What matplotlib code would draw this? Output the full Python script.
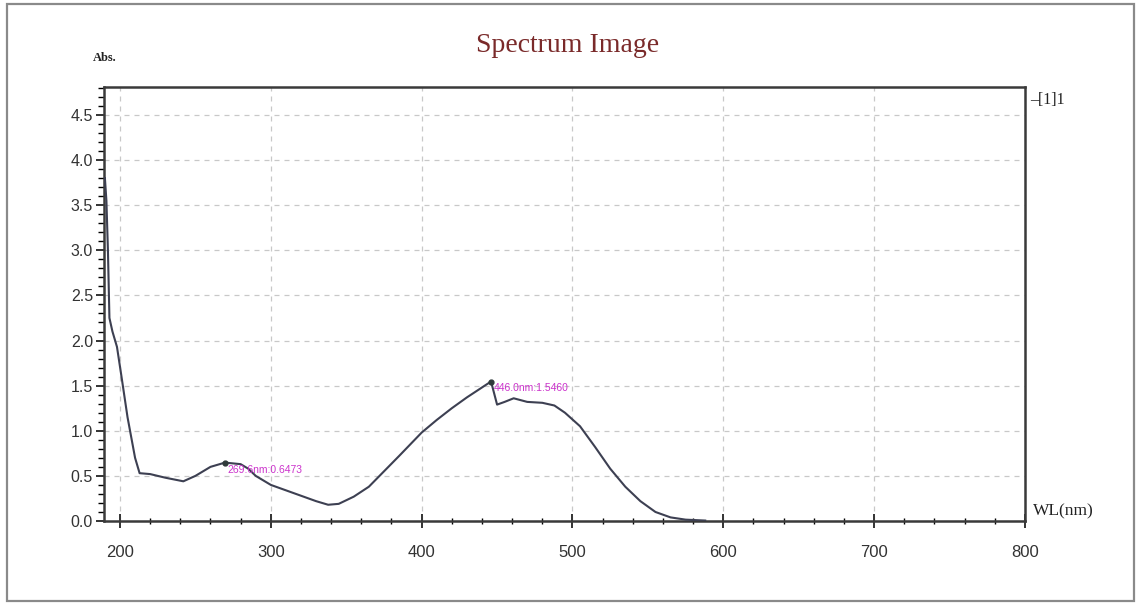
import matplotlib
matplotlib.use("Agg")
import matplotlib.pyplot as plt
from matplotlib.ticker import MultipleLocator
from matplotlib.patches import Rectangle

# Absorbance spectrum (wavelength in nm, absorbance)
wavelength = [190, 191, 192, 193, 195, 198, 201, 205, 210, 213, 220, 230, 242,
              250, 260, 269.6, 280, 285, 290, 300, 310, 320, 330, 338, 345,
              355, 365, 375, 385, 400, 410, 420, 430, 440, 446.0, 450, 455,
              461, 470, 480, 488, 495, 505, 515, 525, 535, 545, 555, 565,
              575, 588]
absorbance = [3.80, 3.55, 3.00, 2.25, 2.10, 1.93, 1.60, 1.15, 0.70, 0.53, 0.52,
              0.48, 0.44, 0.50, 0.60, 0.6473, 0.63, 0.58, 0.50, 0.40, 0.34,
              0.28, 0.22, 0.18, 0.19, 0.27, 0.38, 0.55, 0.72, 0.98, 1.12,
              1.25, 1.37, 1.48, 1.5460, 1.29, 1.32, 1.36, 1.32, 1.31, 1.28,
              1.20, 1.05, 0.82, 0.58, 0.38, 0.22, 0.10, 0.04, 0.015, 0.005]

peak_wl = [269.6, 446.0]
peak_abs = [0.6473, 1.5460]

x_ticks = [200, 300, 400, 500, 600, 700, 800]
y_ticks = [0.0, 0.5, 1.0, 1.5, 2.0, 2.5, 3.0, 3.5, 4.0, 4.5]

plt.rcParams["font.family"] = ["Liberation Serif", "DejaVu Serif"]
SANS = ["Liberation Sans", "DejaVu Sans"]

fig = plt.figure(figsize=(11.41, 6.05), dpi=100)
fig.patch.set_facecolor("white")

# outer frame around the whole panel
fig.add_artist(Rectangle((7 / 1141, 4 / 605), 1127 / 1141, 597 / 605,
                         transform=fig.transFigure, fill=False,
                         edgecolor="#8a8a8a", linewidth=1.6))

ax = fig.add_axes([104 / 1141, 1 - 521 / 605, 921 / 1141, 434 / 605])
ax.set_xlim(189.4, 800)
ax.set_ylim(0, 4.81)

ax.set_xticks(x_ticks)
ax.set_yticks(y_ticks)
ax.xaxis.set_minor_locator(MultipleLocator(20))
ax.yaxis.set_minor_locator(MultipleLocator(0.1))
ax.set_xticklabels([str(v) for v in x_ticks], family=SANS, fontsize=12)
ax.set_yticklabels([f"{v:.1f}" for v in y_ticks], family=SANS, fontsize=11.5)

ax.tick_params(axis="both", which="major", colors="#333333", labelcolor="#333333")
ax.tick_params(axis="x", which="major", direction="inout", length=10, width=1.4, pad=12)
ax.tick_params(axis="x", which="minor", direction="inout", length=5, width=1.0)
ax.tick_params(axis="y", which="major", direction="out", length=6, width=1.4, pad=2)
ax.tick_params(axis="y", which="minor", direction="out", length=4, width=1.0)

for side in ["left", "bottom", "top", "right"]:
    ax.spines[side].set_color("#3a3a3a")
    ax.spines[side].set_linewidth(1.8)

ax.grid(True, which="major", linestyle=(0, (4, 4)), color="#c8c8c8", linewidth=0.9)
ax.set_axisbelow(True)

ax.plot(wavelength, absorbance, color="#3d4052", linewidth=1.5, zorder=3)
ax.plot(peak_wl, peak_abs, "o", color="#2f3a3a", markersize=3.5, zorder=4)

for wl, a in zip(peak_wl, peak_abs):
    ax.annotate(f"{wl:.1f}nm:{a:.4f}", (wl, a), xytext=(2, -5),
                textcoords="offset points", fontsize=7.5, color="#cc33cc",
                family=SANS, va="center", ha="left", zorder=5)

fig.text(568 / 1141, 1 - 45 / 605, "Spectrum Image", fontsize=20,
         color="#7a2a2a", ha="center", va="center")
fig.text(105 / 1141, 1 - 58 / 605, "Abs.", fontsize=9, color="#222222",
         ha="center", va="center", fontweight="bold")
fig.text(1030 / 1141, 1 - 100 / 605, "\u2013[1]1", fontsize=11.5, color="#222222",
         ha="left", va="center")
fig.text(1033 / 1141, 1 - 511 / 605, "WL(nm)", fontsize=12.5, color="#222222",
         ha="left", va="center")

fig.savefig("out.png", dpi=100, facecolor="white")
